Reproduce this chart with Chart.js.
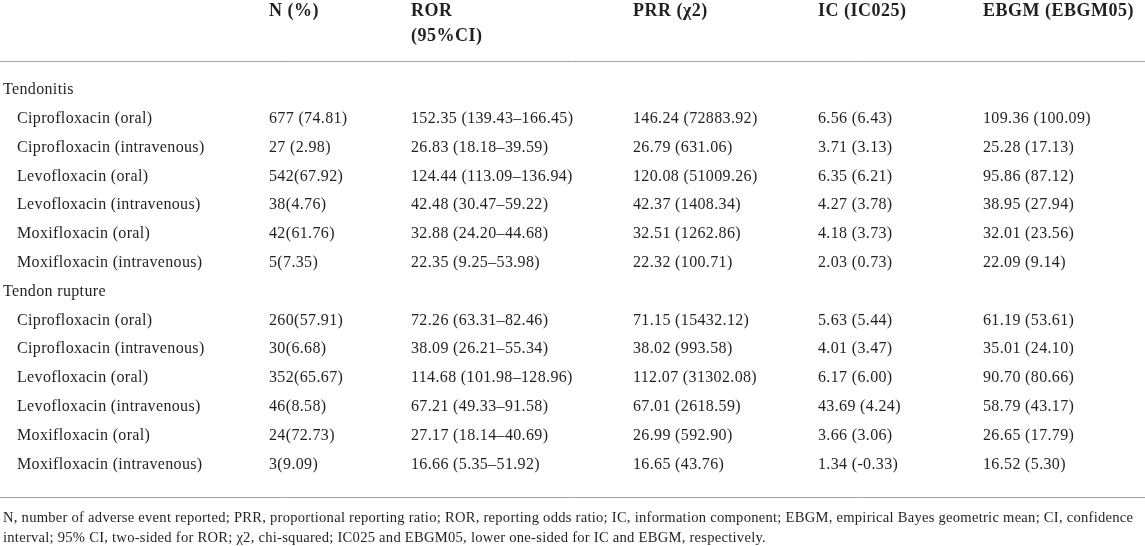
<!DOCTYPE html>
<html>
<head>
<meta charset="utf-8">
<script src="https://cdn.jsdelivr.net/npm/chart.js@4.4.1/dist/chart.umd.min.js"></script>
<style>
  html, body { margin: 0; padding: 0; background: #fff; }
  #wrap { width: 1145px; height: 546px; position: relative; }
</style>
</head>
<body>
<div id="wrap"><canvas id="tabla"></canvas></div>
<script>
// datos de la tabla
const grupos = ['Tendonitis', 'Tendon rupture'];
const farmacos = [
  'Ciprofloxacin (oral)', 'Ciprofloxacin (intravenous)',
  'Levofloxacin (oral)', 'Levofloxacin (intravenous)',
  'Moxifloxacin (oral)', 'Moxifloxacin (intravenous)'
];
const cabeceras = [['N (%)'], ['ROR', '(95%CI)'], ['PRR (χ2)'], ['IC (IC025)'], ['EBGM (EBGM05)']];

// 12 filas: 6 tendinitis + 6 rotura
const nPct = ['677 (74.81)', '27 (2.98)', '542(67.92)', '38(4.76)', '42(61.76)', '5(7.35)',
  '260(57.91)', '30(6.68)', '352(65.67)', '46(8.58)', '24(72.73)', '3(9.09)'];
const ror = ['152.35 (139.43–166.45)', '26.83 (18.18–39.59)', '124.44 (113.09–136.94)', '42.48 (30.47–59.22)',
  '32.88 (24.20–44.68)', '22.35 (9.25–53.98)', '72.26 (63.31–82.46)', '38.09 (26.21–55.34)',
  '114.68 (101.98–128.96)', '67.21 (49.33–91.58)', '27.17 (18.14–40.69)', '16.66 (5.35–51.92)'];
const prr = ['146.24 (72883.92)', '26.79 (631.06)', '120.08 (51009.26)', '42.37 (1408.34)', '32.51 (1262.86)',
  '22.32 (100.71)', '71.15 (15432.12)', '38.02 (993.58)', '112.07 (31302.08)', '67.01 (2618.59)',
  '26.99 (592.90)', '16.65 (43.76)'];
const ic = ['6.56 (6.43)', '3.71 (3.13)', '6.35 (6.21)', '4.27 (3.78)', '4.18 (3.73)', '2.03 (0.73)',
  '5.63 (5.44)', '4.01 (3.47)', '6.17 (6.00)', '43.69 (4.24)', '3.66 (3.06)', '1.34 (-0.33)'];
const ebgm = ['109.36 (100.09)', '25.28 (17.13)', '95.86 (87.12)', '38.95 (27.94)', '32.01 (23.56)',
  '22.09 (9.14)', '61.19 (53.61)', '35.01 (24.10)', '90.70 (80.66)', '58.79 (43.17)', '26.65 (17.79)',
  '16.52 (5.30)'];

const notas = [
  'N, number of adverse event reported; PRR, proportional reporting ratio; ROR, reporting odds ratio; IC, information component; EBGM, empirical Bayes geometric mean; CI, confidence',
  'interval; 95% CI, two-sided for ROR; χ2, chi-squared; IC025 and EBGM05, lower one-sided for IC and EBGM, respectively.'
];

// maquetación (px y filas)
const ANCHO = 1145, ALTO = 546;
const ALTO_FILA = 28.8, PRIMERA_FILA = 90;
const xGrupo = 3;
const xColumnas = [17, 269, 411, 633, 818, 983];
const filasCabecera = [-2.72, -1.88];
const filasRegla = [-1.0, 14.13];
const filasNota = [14.86, 15.56];

const COLOR_TEXTO = '#231f20';
const COLOR_REGLA = '#a3a3a3';
const FUENTE = '"Liberation Serif", "Times New Roman", serif';
const CUERPO = '16px ' + FUENTE;

// fila de cada fármaco dentro del cuerpo
const filaDe = i => Math.floor(i / 6) * 7 + 1 + (i % 6);

function columna(x, textos) {
  return {
    data: textos.map((t, i) => ({ x, y: filaDe(i) })),
    textos, fuente: CUERPO, espaciado: '0.35px', pointRadius: 0
  };
}

const datasets = [
  { data: grupos.map((g, i) => ({ x: xGrupo, y: i * 7 })), textos: grupos,
    fuente: CUERPO, espaciado: '0.35px', pointRadius: 0 },
  columna(xColumnas[0], farmacos.concat(farmacos)),
  columna(xColumnas[1], nPct),
  columna(xColumnas[2], ror),
  columna(xColumnas[3], prr),
  columna(xColumnas[4], ic),
  columna(xColumnas[5], ebgm)
];

// cabeceras: una entrada por línea
const cab = { data: [], textos: [], fuente: 'bold 18px ' + FUENTE, espaciado: '0.5px', pointRadius: 0 };
cabeceras.forEach((lineas, c) => {
  lineas.forEach((l, k) => {
    cab.data.push({ x: xColumnas[c + 1], y: filasCabecera[k] });
    cab.textos.push(l);
  });
});
datasets.push(cab);

datasets.push({
  data: notas.map((n, i) => ({ x: xGrupo, y: filasNota[i] })),
  textos: notas, fuente: '14.6px ' + FUENTE, espaciado: '0.25px', pointRadius: 0
});

// dibuja reglas y textos en las posiciones de los puntos
const pluginTabla = {
  id: 'pluginTabla',
  beforeDatasetsDraw(chart) {
    const { ctx, scales: { x, y } } = chart;
    ctx.save();
    ctx.strokeStyle = COLOR_REGLA;
    ctx.lineWidth = 1;
    filasRegla.forEach(f => {
      const py = Math.round(y.getPixelForValue(f)) + 0.5;
      ctx.beginPath();
      ctx.moveTo(x.getPixelForValue(0), py);
      ctx.lineTo(x.getPixelForValue(ANCHO), py);
      ctx.stroke();
    });
    ctx.restore();
  },
  afterDatasetsDraw(chart) {
    const ctx = chart.ctx;
    ctx.save();
    ctx.fillStyle = COLOR_TEXTO;
    ctx.textAlign = 'left';
    ctx.textBaseline = 'middle';
    chart.data.datasets.forEach((ds, i) => {
      ctx.font = ds.fuente;
      if ('letterSpacing' in ctx) ctx.letterSpacing = ds.espaciado || '0px';
      chart.getDatasetMeta(i).data.forEach((pt, j) => {
        ctx.fillText(ds.textos[j], pt.x, pt.y);
      });
    });
    ctx.restore();
  }
};

new Chart(document.getElementById('tabla'), {
  type: 'scatter',
  data: { datasets },
  options: {
    responsive: true,
    maintainAspectRatio: false,
    animation: false,
    events: [],
    layout: { padding: 0 },
    scales: {
      x: { type: 'linear', display: false, min: 0, max: ANCHO },
      y: { type: 'linear', display: false, reverse: true,
           min: -PRIMERA_FILA / ALTO_FILA, max: (ALTO - PRIMERA_FILA) / ALTO_FILA }
    },
    plugins: { legend: { display: false }, tooltip: { enabled: false } }
  },
  plugins: [pluginTabla]
});
</script>
</body>
</html>
